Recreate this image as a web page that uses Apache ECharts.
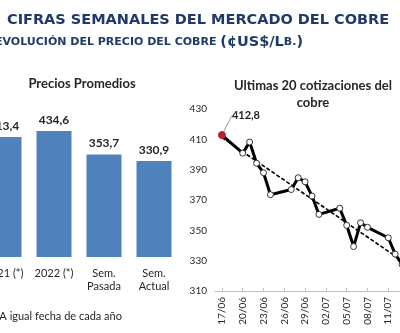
<!DOCTYPE html>
<html>
<head>
<meta charset="utf-8">
<script src="https://cdn.jsdelivr.net/npm/echarts@6/dist/echarts.min.js"></script>
<style>html,body{margin:0;padding:0;background:#fff}#c{width:400px;height:333px}</style>
</head>
<body>
<div id="c"></div>
<script>
// ---- Data ----
var barCategories = ['2021 (*)', '2022 (*)', 'Sem.\nPasada', 'Sem.\nActual'];
var barValues = [413.4, 434.6, 353.7, 330.9];

var lineDates = ['2022-06-17','2022-06-20','2022-06-21','2022-06-22','2022-06-23','2022-06-24',
                 '2022-06-27','2022-06-28','2022-06-29','2022-06-30','2022-07-01','2022-07-04',
                 '2022-07-05','2022-07-06','2022-07-07','2022-07-08','2022-07-11','2022-07-12',
                 '2022-07-13','2022-07-14'];
var lineValues = [412.8, 400.9, 408.2, 394.2, 388.0, 373.5, 376.9, 384.7, 382.0, 372.6,
                  360.5, 364.6, 353.3, 339.3, 355.0, 352.0, 345.1, 334.3, 327.5, 317.0];
var xTickDates = ['2022-06-17','2022-06-20','2022-06-23','2022-06-26','2022-06-29','2022-07-02',
                  '2022-07-05','2022-07-08','2022-07-11','2022-07-14'];
var xAxisStart = '2022-06-16';
var xAxisEnd = '2022-07-15';
var yTicks = [310, 330, 350, 370, 390, 410, 430];

// ---- Helpers ----
function dayNum(s){ var p = s.split('-'); return Date.UTC(+p[0], +p[1]-1, +p[2]) / 86400000; }
function fmtDay(d){ var dt = new Date(Math.round(d) * 86400000);
  var dd = String(dt.getUTCDate()).padStart(2,'0'); var mm = String(dt.getUTCMonth()+1).padStart(2,'0');
  return dd + '/' + mm; }
function fmtNum(v){ return v.toFixed(1).replace('.', ','); }

var xs = lineDates.map(dayNum);
var lineData = xs.map(function(x, i){
  if (i === 0) {
    return { value: [x, lineValues[i]], symbolSize: 7,
      itemStyle: { color: '#B8202E', borderColor: '#B8202E' },
      label: { show: true, formatter: fmtNum(lineValues[i]) } };
  }
  return [x, lineValues[i]];
});

// Linear trendline (least squares, like Excel's)
var n = xs.length, sx = 0, sy = 0, sxx = 0, sxy = 0;
for (var i = 0; i < n; i++){ sx += xs[i]; sy += lineValues[i]; sxx += xs[i]*xs[i]; sxy += xs[i]*lineValues[i]; }
var slope = (n*sxy - sx*sy) / (n*sxx - sx*sx);
var icpt = (sy - slope*sx) / n;
var trendData = [[xs[0], icpt + slope*xs[0]], [xs[n-1], icpt + slope*xs[n-1]]];

var navy = '#1F3A68';
var txt = '#262626';

var chart = echarts.init(document.getElementById('c'), null, { renderer: 'canvas' });
chart.setOption({
  animation: false,
  backgroundColor: '#ffffff',
  title: [
    { text: 'CIFRAS SEMANALES DEL MERCADO DEL COBRE', left: 2, top: 8,
      textStyle: { fontFamily: 'DejaVu Sans', fontWeight: 'bold', fontSize: 14.5, color: navy } },
    { text: '{a|EVOLUCIÓN DEL PRECIO DEL COBRE }{b|(¢US$/L}{a|B.}{b|)}', left: -10, top: 30,
      textStyle: { rich: {
        a: { fontFamily: 'DejaVu Sans', fontWeight: 'bold', fontSize: 11, color: navy },
        b: { fontFamily: 'DejaVu Sans', fontWeight: 'bold', fontSize: 14.5, color: navy } } } },
    { text: 'Precios Promedios', left: 77, textAlign: 'center', top: 72,
      textStyle: { fontFamily: 'Lato', fontWeight: 'bold', fontSize: 13, color: txt } },
    { text: 'Ultimas 20 cotizaciones del\ncobre', left: 308, textAlign: 'center', top: 72,
      textStyle: { fontFamily: 'Lato', fontWeight: 'bold', fontSize: 13, lineHeight: 17, color: txt, align: 'center' } },
    { text: '(*) A igual fecha de cada año', left: -19, top: 306,
      textStyle: { fontFamily: 'Lato', fontWeight: 'normal', fontSize: 11, color: txt } }
  ],
  grid: [
    { left: -21, width: 200, top: 112, height: 145, containLabel: false, outerBoundsMode: 'none' },
    { left: 215, width: 201, top: 109, height: 182, containLabel: false, outerBoundsMode: 'none' }
  ],
  xAxis: [
    { gridIndex: 0, type: 'category', data: barCategories,
      axisLine: { show: false }, axisTick: { show: false },
      axisLabel: { margin: 10, fontFamily: 'Lato', fontSize: 11, color: txt, lineHeight: 13, interval: 0 } },
    { gridIndex: 1, type: 'value', min: dayNum(xAxisStart), max: dayNum(xAxisEnd),
      splitLine: { show: false },
      axisLine: { show: true, lineStyle: { color: '#BFBFBF', width: 1 } },
      axisTick: { show: true, inside: true, length: 3, lineStyle: { color: '#BFBFBF' },
        customValues: xTickDates.map(dayNum) },
      axisLabel: { rotate: 90, margin: 6, fontFamily: 'Lato', fontSize: 10, color: txt,
        customValues: xTickDates.map(dayNum), formatter: function(v){ return fmtDay(v); } } }
  ],
  yAxis: [
    { gridIndex: 0, type: 'value', min: 0, max: 500, show: false, splitLine: { show: false } },
    { gridIndex: 1, type: 'value', min: yTicks[0], max: yTicks[yTicks.length-1],
      splitLine: { show: false }, axisLine: { show: false }, axisTick: { show: false },
      axisLabel: { customValues: yTicks, margin: 8, fontFamily: 'Lato', fontSize: 10, color: txt } }
  ],
  series: [
    { type: 'bar', xAxisIndex: 0, yAxisIndex: 0, data: barValues, barWidth: 35,
      itemStyle: { color: '#4F81BD' },
      label: { show: true, position: 'top', distance: 5, fontFamily: 'Lato', fontWeight: 'bold',
        fontSize: 12, color: txt, formatter: function(p){ return fmtNum(p.value); } } },
    { type: 'line', xAxisIndex: 1, yAxisIndex: 1, data: trendData, symbol: 'none',
      lineStyle: { color: '#000', width: 1.6, type: [4, 2] }, z: 3 },
    { type: 'line', xAxisIndex: 1, yAxisIndex: 1, data: lineData, symbol: 'circle', symbolSize: 6,
      lineStyle: { color: '#000', width: 3 },
      itemStyle: { color: '#ffffff', borderColor: '#333', borderWidth: 1 },
      label: { show: false, position: 'top', fontFamily: 'Lato', fontWeight: 'bold', fontSize: 11, color: txt },
      labelLine: { show: true, lineStyle: { color: '#999', width: 1 } },
      labelLayout: { dx: 24, dy: -5 },
      z: 4 }
  ]
});
</script>
</body>
</html>
